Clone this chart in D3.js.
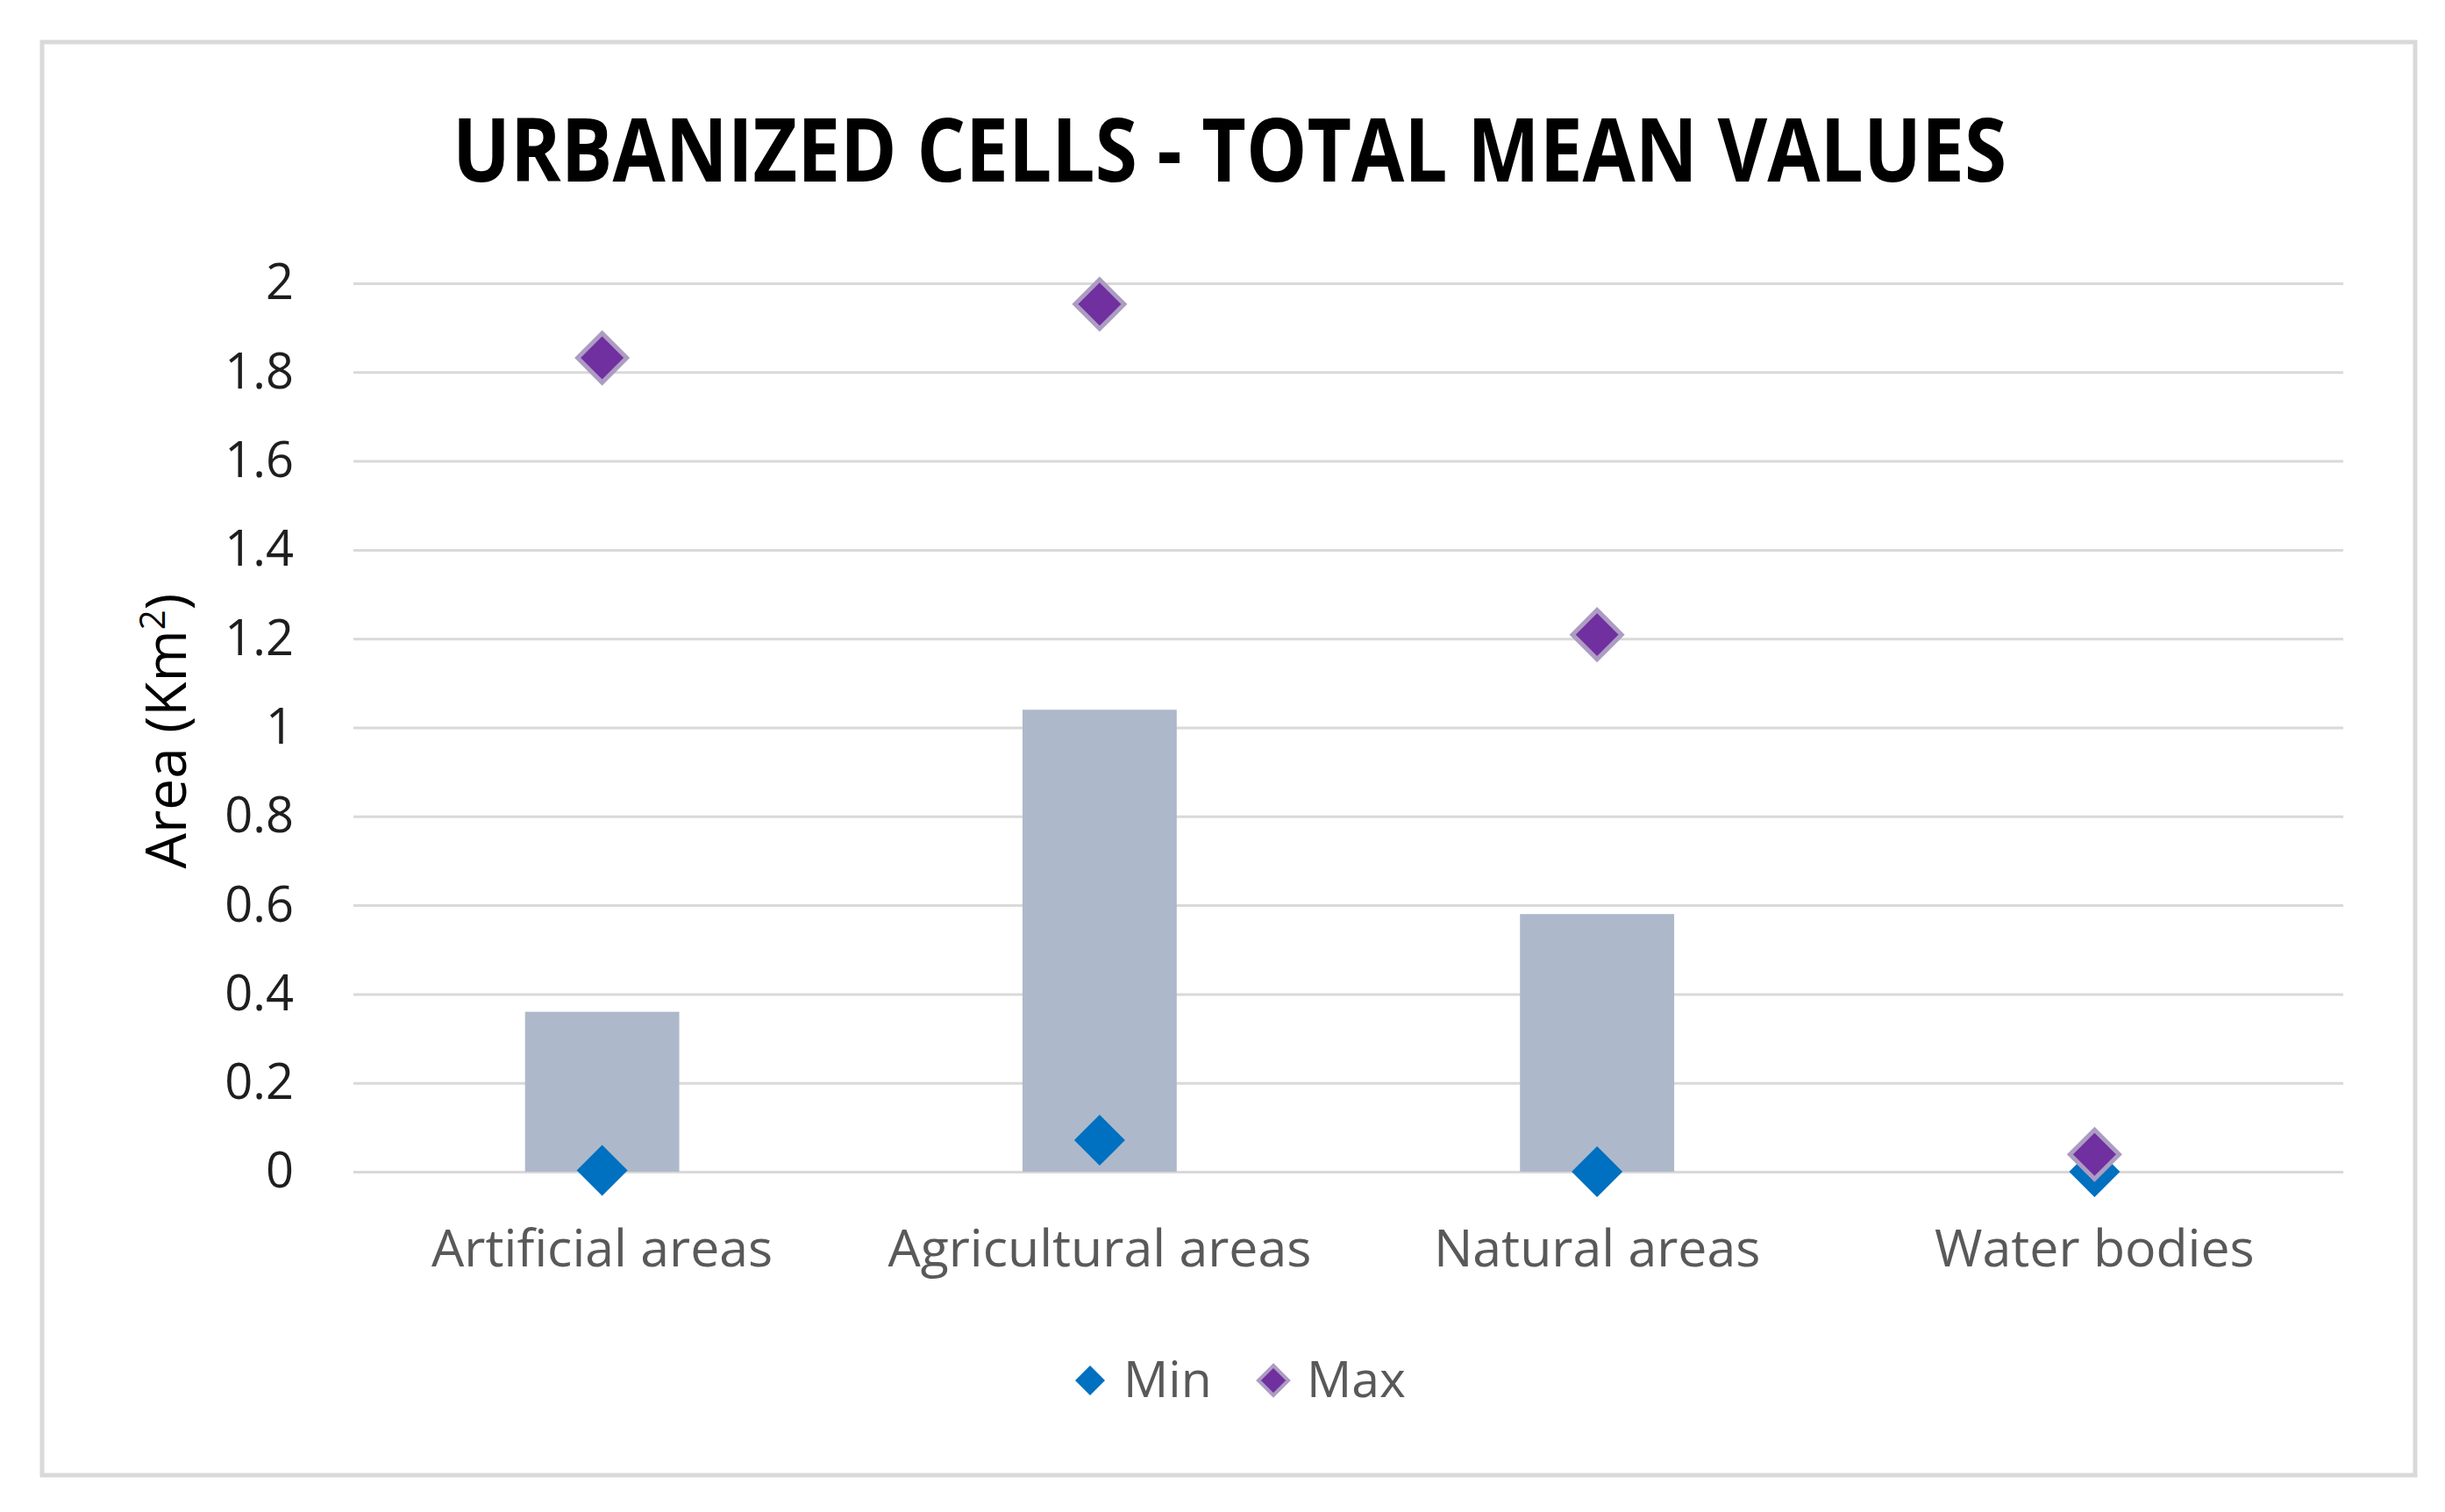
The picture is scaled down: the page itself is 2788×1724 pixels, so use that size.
<!DOCTYPE html>
<html>
<head>
<meta charset="utf-8">
<script src="https://cdn.jsdelivr.net/npm/d3@7"></script>
<style>
  html, body { margin: 0; padding: 0; background: #fff; }
  svg { display: block; }
</style>
</head>
<body>
<svg id="chart"></svg>
<script>
// chart data
const categories = ["Artificial areas", "Agricultural areas", "Natural areas", "Water bodies"];
const meanValues = [0.36, 1.04, 0.58, 0.0];
const minValues  = [0.003, 0.071, 0.0, 0.0];
const maxValues  = [1.832, 1.953, 1.209, 0.039];
const yTickValues = [0, 0.2, 0.4, 0.6, 0.8, 1, 1.2, 1.4, 1.6, 1.8, 2];
const yTickLabels = ["0", "0.2", "0.4", "0.6", "0.8", "1", "1.2", "1.4", "1.6", "1.8", "2"];
const legendItems = ["Min", "Max"];

const W = 2788, H = 1724;
const PLOT = { left: 403, right: 2672, top: 323, bottom: 1336 };

const BAR_COLOR = "#adb9ca";
const MIN_COLOR = "#0070c0";
const MAX_COLOR = "#7030a0";
const MAX_EDGE  = "#ad9cc2";
const GRID      = "#d9d9d9";
const FONT      = "'Open Sans', 'DejaVu Sans', sans-serif";

const svg = d3.select("#chart")
  .attr("width", W)
  .attr("height", H);

// outer frame
svg.append("rect")
  .attr("x", 48).attr("y", 48)
  .attr("width", 2754 - 48).attr("height", 1682 - 48)
  .attr("fill", "#fff")
  .attr("stroke", GRID)
  .attr("stroke-width", 5);

const x = d3.scaleBand()
  .domain(categories)
  .range([PLOT.left, PLOT.right])
  .paddingInner(0.69)
  .paddingOuter(0.345);

const y = d3.scaleLinear()
  .domain([0, 2])
  .range([PLOT.bottom, PLOT.top]);

// y axis with gridlines
const yAxis = d3.axisLeft(y)
  .tickValues(yTickValues)
  .tickFormat((d, i) => yTickLabels[i])
  .tickSize(-(PLOT.right - PLOT.left))
  .tickPadding(68);

const yg = svg.append("g")
  .attr("transform", `translate(${PLOT.left},0)`)
  .call(yAxis);
yg.select(".domain").remove();
yg.selectAll(".tick line")
  .attr("stroke", GRID)
  .attr("stroke-width", 3);
yg.selectAll(".tick text")
  .attr("font-family", FONT)
  .attr("font-size", 56)
  .attr("fill", "#1e1e1e");

// axis title
svg.append("text")
  .attr("transform", `translate(212,${(PLOT.top + PLOT.bottom) / 2 + 4}) rotate(-90)`)
  .attr("text-anchor", "middle")
  .attr("font-family", FONT)
  .attr("font-size", 64)
  .attr("fill", "#000")
  .call(t => {
    t.append("tspan").text("Area (Km");
    t.append("tspan").attr("font-size", 40).attr("dy", -24).text("2");
    t.append("tspan").attr("dy", 24).text(")");
  });

// bars
svg.append("g").selectAll("rect")
  .data(categories)
  .enter().append("rect")
    .attr("x", d => x(d))
    .attr("width", x.bandwidth())
    .attr("y", (d, i) => y(meanValues[i]))
    .attr("height", (d, i) => y(0) - y(meanValues[i]))
    .attr("fill", BAR_COLOR);

// category labels
svg.append("g").selectAll("text")
  .data(categories)
  .enter().append("text")
    .attr("x", d => x(d) + x.bandwidth() / 2)
    .attr("y", 1444)
    .attr("text-anchor", "middle")
    .attr("font-family", FONT)
    .attr("font-size", 59)
    .attr("fill", "#595959")
    .text(d => d);

function diamond(r) {
  return `M0,${-r}L${r},0L0,${r}L${-r},0Z`;
}

// min markers
svg.append("g").selectAll("path")
  .data(categories)
  .enter().append("path")
    .attr("d", diamond(29))
    .attr("transform", (d, i) => `translate(${x(d) + x.bandwidth() / 2},${y(minValues[i])})`)
    .attr("fill", MIN_COLOR);

// max markers
svg.append("g").selectAll("path")
  .data(categories)
  .enter().append("path")
    .attr("d", diamond(28))
    .attr("transform", (d, i) => `translate(${x(d) + x.bandwidth() / 2},${y(maxValues[i])})`)
    .attr("fill", MAX_COLOR)
    .attr("stroke", MAX_EDGE)
    .attr("stroke-width", 5);

// legend
const legendX = [1243, 1452];
const lg = svg.append("g").selectAll("g")
  .data(legendItems)
  .enter().append("g")
    .attr("transform", (d, i) => `translate(${legendX[i]},1574)`);
lg.append("path")
  .attr("d", diamond(17))
  .attr("fill", (d, i) => i === 0 ? MIN_COLOR : MAX_COLOR)
  .attr("stroke", (d, i) => i === 0 ? "none" : MAX_EDGE)
  .attr("stroke-width", 4);
lg.append("text")
  .attr("x", 38)
  .attr("y", 19)
  .attr("font-family", FONT)
  .attr("font-size", 57)
  .attr("fill", "#595959")
  .text(d => d);

// title
svg.append("text")
  .attr("x", 1402)
  .attr("y", 207)
  .attr("text-anchor", "middle")
  .attr("font-family", FONT)
  .attr("font-weight", 700)
  .attr("font-size", 100)
  .attr("textLength", 1772)
  .attr("lengthAdjust", "spacingAndGlyphs")
  .attr("fill", "#000")
  .text("URBANIZED CELLS - TOTAL MEAN VALUES");
</script>
</body>
</html>
